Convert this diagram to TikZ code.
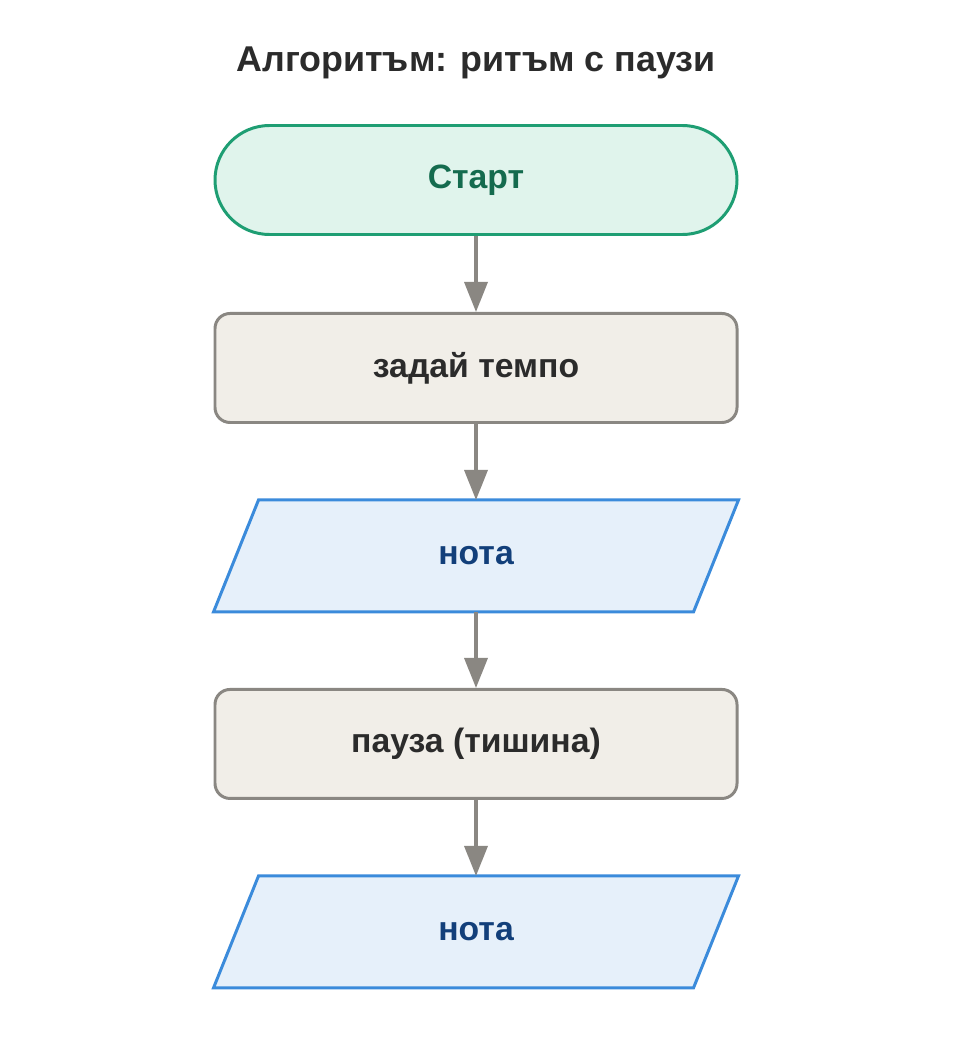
\documentclass[tikz,border=0pt]{standalone}
\usepackage{fontspec}
\setmainfont{Liberation Sans}
\usetikzlibrary{positioning,arrows.meta,calc}
\definecolor{startfill}{HTML}{E0F4EC}
\definecolor{startdraw}{HTML}{1E9E73}
\definecolor{starttext}{HTML}{146B4E}
\definecolor{procfill}{HTML}{F1EEE8}
\definecolor{procdraw}{HTML}{8A8782}
\definecolor{proctext}{HTML}{2B2B2B}
\definecolor{iofill}{HTML}{E6F0FA}
\definecolor{iodraw}{HTML}{3B8BDB}
\definecolor{iotext}{HTML}{123F7A}
\tikzset{
  box/.style={minimum width=10.44cm,minimum height=2.18cm,line width=1.7pt,
    font=\fontsize{19.2pt}{22pt}\selectfont\bfseries},
  startstop/.style={box,rounded corners=1.09cm,draw=startdraw,fill=startfill,text=starttext},
  proc/.style={box,rounded corners=0.3cm,draw=procdraw,fill=procfill,text=proctext},
  io/.style={box,text=iotext},
  flow/.style={draw=procdraw,line width=2pt,-{Triangle[length=0.6cm,width=0.46cm]}}
}
\newcommand{\iobox}[1]{%
  \fill[iofill,draw=iodraw,line width=1.7pt,line join=miter]
    ($(#1.north west)+(0.9,0)$) -- (#1.north east) --
    ($(#1.south east)-(0.9,0)$) -- (#1.south west) -- cycle;
  \node[io] at (#1) {нота};}
\begin{document}
\begin{tikzpicture}
\useasboundingbox (0,0) rectangle (19.04,-21.04);
\node[font=\fontsize{20.4pt}{24pt}\selectfont\bfseries,text=proctext] (title) at (9.52,-1.26) {Алгоритъм: ритъм с паузи};
\node[startstop] (start) at (9.52,-3.6) {Старт};
\node[proc,below=1.52cm of start] (tempo) {задай темпо};
\node[io,below=1.52cm of tempo] (nota1) {};
\node[proc,below=1.52cm of nota1] (pauza) {пауза (тишина)};
\node[io,below=1.52cm of pauza] (nota2) {};
\iobox{nota1}
\iobox{nota2}
\foreach \from/\to in {start/tempo,tempo/nota1,nota1/pauza,pauza/nota2}
  \draw[flow] (\from) -- (\to);
\end{tikzpicture}
\end{document}
